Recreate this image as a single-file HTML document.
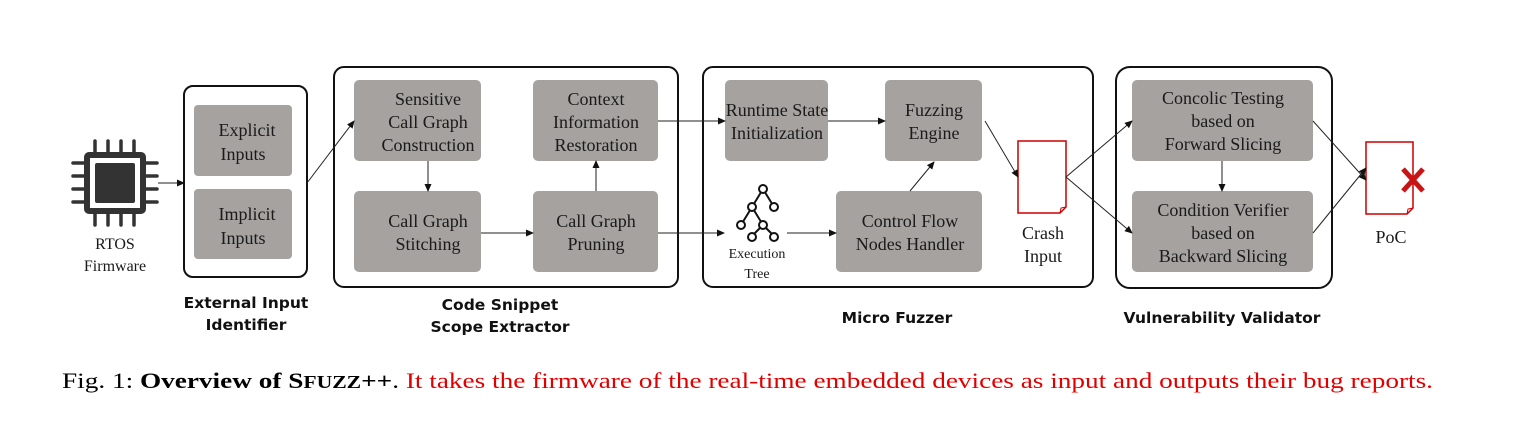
<!DOCTYPE html>
<html><head><meta charset="utf-8"><style>
body{margin:0;background:#fff;width:1535px;height:416px;overflow:hidden}
svg text{font-family:"Liberation Serif",serif;}
.b{fill:#a5a2a0}
.t{font-size:18px;fill:#1a1a1a;text-anchor:middle}
.s{font-family:"DejaVu Sans","Liberation Sans",sans-serif!important;font-size:15.5px;font-weight:bold;text-anchor:middle;fill:#111}
.c{fill:none;stroke:#111;stroke-width:2}
.l{stroke:#222;stroke-width:1;fill:none;marker-end:url(#a)}
</style></head><body>
<svg width="1535" height="416" xmlns="http://www.w3.org/2000/svg">
<defs><marker id="a" markerWidth="8" markerHeight="8" refX="7" refY="3.5" orient="auto" markerUnits="userSpaceOnUse"><path d="M0,0 L8,3.5 L0,7 z" fill="#111"/></marker></defs>
<rect class="c" x="184" y="86" width="123" height="191" rx="9"/>
<rect class="c" x="334" y="67" width="344" height="220" rx="10"/>
<rect class="c" x="703" y="67" width="390" height="220" rx="10"/>
<rect class="c" x="1116" y="67" width="216" height="221" rx="14"/>
<rect class="b" x="194" y="105" width="98" height="71" rx="4"/>
<rect class="b" x="194" y="189" width="98" height="70" rx="4"/>
<rect class="b" x="354" y="80" width="127" height="81" rx="5"/>
<rect class="b" x="533" y="80" width="125" height="81" rx="5"/>
<rect class="b" x="354" y="191" width="127" height="81" rx="5"/>
<rect class="b" x="533" y="191" width="125" height="81" rx="5"/>
<rect class="b" x="725" y="80" width="103" height="81" rx="5"/>
<rect class="b" x="885" y="80" width="97" height="81" rx="5"/>
<rect class="b" x="836" y="191" width="146" height="81" rx="5"/>
<rect class="b" x="1132" y="80" width="181" height="81" rx="5"/>
<rect class="b" x="1132" y="191" width="181" height="81" rx="5"/>
<text class="t" x="247" y="136">Explicit</text><text class="t" x="243" y="160">Inputs</text>
<text class="t" x="247" y="220">Implicit</text><text class="t" x="243" y="244">Inputs</text>
<text class="t" x="428" y="105">Sensitive</text><text class="t" x="428" y="128">Call Graph</text><text class="t" x="428" y="151">Construction</text>
<text class="t" x="596" y="105">Context</text><text class="t" x="596" y="128">Information</text><text class="t" x="596" y="151">Restoration</text>
<text class="t" x="428" y="227">Call Graph</text><text class="t" x="428" y="250">Stitching</text>
<text class="t" x="596" y="227">Call Graph</text><text class="t" x="596" y="250">Pruning</text>
<text class="t" x="777" y="116">Runtime State</text><text class="t" x="777" y="139">Initialization</text>
<text class="t" x="934" y="116">Fuzzing</text><text class="t" x="934" y="139">Engine</text>
<text class="t" x="910" y="227">Control Flow</text><text class="t" x="910" y="250">Nodes Handler</text>
<text class="t" x="1223" y="104">Concolic Testing</text><text class="t" x="1223" y="127">based on</text><text class="t" x="1223" y="150">Forward Slicing</text>
<text class="t" x="1223" y="216">Condition Verifier</text><text class="t" x="1223" y="239">based on</text><text class="t" x="1223" y="262">Backward Slicing</text>
<g fill="#333">
<rect x="84" y="152" width="62" height="62" rx="5"/>
<rect x="90" y="158" width="50" height="50" fill="#fff"/>
<rect x="95" y="163" width="40" height="40" rx="2"/>
<g stroke="#333" stroke-width="3.5" stroke-linecap="round">
<line x1="95" y1="152" x2="95" y2="141"/><line x1="108" y1="152" x2="108" y2="141"/><line x1="121" y1="152" x2="121" y2="141"/><line x1="134" y1="152" x2="134" y2="141"/>
<line x1="95" y1="214" x2="95" y2="225"/><line x1="108" y1="214" x2="108" y2="225"/><line x1="121" y1="214" x2="121" y2="225"/><line x1="134" y1="214" x2="134" y2="225"/>
<line x1="84" y1="163" x2="73" y2="163"/><line x1="84" y1="176" x2="73" y2="176"/><line x1="84" y1="189" x2="73" y2="189"/><line x1="84" y1="202" x2="73" y2="202"/>
<line x1="146" y1="163" x2="157" y2="163"/><line x1="146" y1="176" x2="157" y2="176"/><line x1="146" y1="189" x2="157" y2="189"/><line x1="146" y1="202" x2="157" y2="202"/>
</g></g>
<text class="t" x="115" y="249" style="font-size:16px">RTOS</text>
<text class="t" x="115" y="271" style="font-size:16px">Firmware</text>
<g stroke="#111" stroke-width="2" fill="#fff">
<line x1="763" y1="189" x2="752" y2="207"/><line x1="763" y1="189" x2="774" y2="207"/>
<line x1="752" y1="207" x2="741" y2="225"/><line x1="752" y1="207" x2="763" y2="225"/>
<line x1="763" y1="225" x2="752" y2="236"/><line x1="763" y1="225" x2="774" y2="236"/>
<circle cx="763" cy="189" r="4"/><circle cx="752" cy="207" r="4"/><circle cx="774" cy="207" r="4"/>
<circle cx="741" cy="225" r="4"/><circle cx="763" cy="225" r="4"/><circle cx="752" cy="237" r="4"/><circle cx="774" cy="237" r="4"/>
</g>
<text class="t" x="757" y="258" style="font-size:14px">Execution</text>
<text class="t" x="757" y="278" style="font-size:14px">Tree</text>
<path d="M1018,141 H1066 V207 L1060,213 H1018 Z" fill="#fff" stroke="#c00" stroke-width="1.5"/>
<path d="M1060,213 L1061,208 L1066,207" fill="none" stroke="#c00" stroke-width="1"/>
<text class="t" x="1043" y="239">Crash</text><text class="t" x="1043" y="262">Input</text>
<path d="M1366,142 H1413 V208 L1407,214 H1366 Z" fill="#fff" stroke="#c00" stroke-width="1.5"/>
<path d="M1407,214 L1408,209 L1413,208" fill="none" stroke="#c00" stroke-width="1"/>
<g stroke="#c81414" stroke-width="5"><line x1="1403" y1="169" x2="1423" y2="191"/><line x1="1423" y1="169" x2="1403" y2="191"/></g>
<text class="t" x="1391" y="243">PoC</text>
<line class="l" x1="158" y1="183" x2="184" y2="183"/>
<line class="l" x1="307" y1="183" x2="354" y2="121"/>
<line class="l" x1="428" y1="161" x2="428" y2="191"/>
<line class="l" x1="481" y1="233" x2="533" y2="233"/>
<line class="l" x1="596" y1="191" x2="596" y2="161"/>
<line class="l" x1="658" y1="121" x2="725" y2="121"/>
<line class="l" x1="828" y1="121" x2="885" y2="121"/>
<line class="l" x1="658" y1="233" x2="724" y2="233"/>
<line class="l" x1="787" y1="233" x2="836" y2="233"/>
<line class="l" x1="910" y1="191" x2="934" y2="162"/>
<line class="l" x1="985" y1="121" x2="1018" y2="177"/>
<line class="l" x1="1066" y1="177" x2="1132" y2="121"/>
<line class="l" x1="1066" y1="177" x2="1132" y2="233"/>
<line class="l" x1="1222" y1="161" x2="1222" y2="191"/>
<line class="l" x1="1313" y1="121" x2="1366" y2="180"/>
<line class="l" x1="1313" y1="233" x2="1366" y2="168"/>
<text class="s" x="246" y="308">External Input</text><text class="s" x="246" y="330">Identifier</text>
<text class="s" x="500" y="310">Code Snippet</text><text class="s" x="500" y="332">Scope Extractor</text>
<text class="s" x="897" y="323">Micro Fuzzer</text>
<text class="s" x="1222" y="323">Vulnerability Validator</text>
<text x="62" y="388" textLength="1371" lengthAdjust="spacingAndGlyphs" style="font-size:22px;fill:#000">Fig. 1: <tspan font-weight="bold">Overview of S<tspan font-size="17.5px">FUZZ</tspan>++</tspan>. <tspan fill="#e00000">It takes the firmware of the real-time embedded devices as input and outputs their bug reports.</tspan></text>
</svg>
</body></html>
